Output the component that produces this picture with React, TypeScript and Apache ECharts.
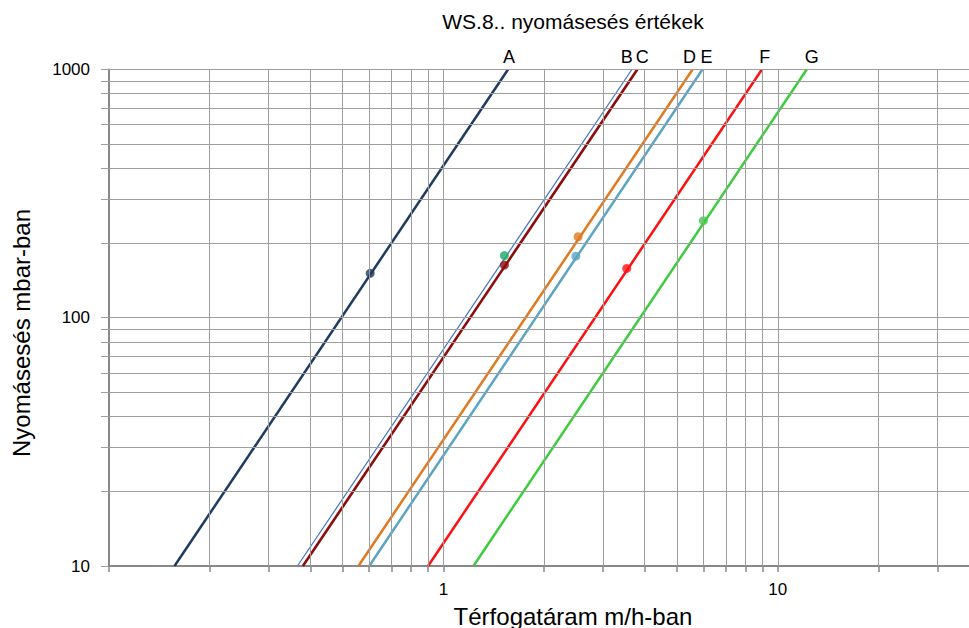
import React, { useEffect, useRef } from "react";
import * as echarts from "echarts";

const categories = ["A", "B", "C", "D", "E", "F", "G"];
const qAt10 = [0.157, 0.366, 0.38, 0.557, 0.6, 0.9, 1.23];
const qAt1000 = [1.56, 3.66, 3.8, 5.56, 5.95, 8.96, 12.2];
const markerQ = [0.604, 1.522, 1.522, 2.528, 2.489, 3.535, 5.99];
const markerP = [151, 178, 163, 212, 177, 158, 246];
const xGridValues = [0.2, 0.3, 0.4, 0.5, 0.6, 0.7, 0.8, 0.9, 1, 2, 3, 4, 5, 6, 7, 8, 9, 10, 20, 30];
const yGridValues = [20, 30, 40, 50, 60, 70, 80, 90, 100, 200, 300, 400, 500, 600, 700, 800, 900, 1000];
const xTickValues = [0.1, 0.2, 0.3, 0.4, 0.5, 0.6, 0.7, 0.8, 0.9, 1, 2, 3, 4, 5, 6, 7, 8, 9, 10, 20, 30];
const yTickValues = [10, 20, 30, 40, 50, 60, 70, 80, 90, 100, 200, 300, 400, 500, 600, 700, 800, 900, 1000];
const xTickLabels = [1, 10];
const yTickLabels = [10, 100, 1000];

const lineColors = ["#1F3B5F", "#4472C4", "#8E0B0B", "#E07A1F", "#5BA5C2", "#FF1010", "#3DCC3D"];
const markerColors = ["#1F3B5F", "#1DAA68", "#8E0B0B", "#E07A1F", "#5BA5C2", "#FF1010", "#3DCC3D"];
const lineWidths = [2.5, 1.2, 2.6, 2.5, 2.5, 2.5, 2.5];
const labelOffsets = [1, -5, 5, -3, 4, 3, 5];

const FONT = '"Liberation Sans", Arial, sans-serif';

export default function App() {
  const ref = useRef<HTMLDivElement>(null);
  useEffect(() => {
    if (!ref.current) return;
    const chart = echarts.init(ref.current, undefined, { renderer: "svg" });
    const gridColor = "#9E9E9E";
    const lineSeries: any[] = categories.map((c, i) => ({
      type: "line",
      name: c,
      z: 3,
      symbol: "none",
      silent: true,
      lineStyle: { color: lineColors[i], width: lineWidths[i] },
      data: [
        [qAt10[i], 10],
        [qAt1000[i], 1000],
      ],
    }));
    const labelSeries = {
      type: "scatter",
      z: 5,
      silent: true,
      symbol: "circle",
      symbolSize: 0,
      itemStyle: { color: "#000", opacity: 1 },
      data: categories.map((c, i) => ({
        value: [qAt1000[i], 1000],
        label: {
          show: true,
          position: "top",
          distance: 4,
          formatter: c,
          offset: [labelOffsets[i], 0],
          color: "#000",
          opacity: 1,
          fontSize: 18,
          fontFamily: FONT,
        },
      })),
    };
    const gridSeries = {
      type: "line",
      z: 1,
      silent: true,
      symbol: "none",
      data: [[0.1, 10]],
      lineStyle: { opacity: 0 },
      markLine: {
        silent: true,
        symbol: "none",
        label: { show: false },
        lineStyle: { color: gridColor, width: 1, type: "solid" },
        data: [
          ...xGridValues.map((v) => ({ xAxis: v })),
          ...yGridValues.map((v) => ({ yAxis: v })),
        ],
      },
    };
    const markerSeries = {
      type: "scatter",
      z: 4,
      symbolSize: 9,
      data: markerQ.map((q, i) => ({
        value: [q, markerP[i]],
        itemStyle: { color: markerColors[i] },
      })),
    };
    chart.setOption({
      animation: false,
      backgroundColor: "#fff",
      grid: { left: 109, right: 0, top: 69.5, bottom: 62, containLabel: false },
      xAxis: {
        type: "log",
        logBase: 10,
        min: 0.1,
        max: 37.3,
        axisLine: { show: true, lineStyle: { color: "#888", width: 2 } },
        axisTick: {
          show: true,
          length: 6,
          customValues: xTickValues,
          lineStyle: { color: "#888", width: 1.5 },
        },
        axisLabel: {
          customValues: xTickLabels,
          formatter: (v: number) => String(v),
          color: "#000",
          fontSize: 17,
          fontFamily: FONT,
          margin: 15,
        },
        splitLine: { show: false },
        minorTick: { show: false },
      },
      yAxis: {
        type: "log",
        logBase: 10,
        min: 10,
        max: 1000,
        axisLine: { show: true, lineStyle: { color: "#888", width: 2 } },
        axisTick: {
          show: true,
          length: 8,
          customValues: yTickValues,
          lineStyle: { color: gridColor, width: 1 },
        },
        axisLabel: {
          customValues: yTickLabels,
          formatter: (v: number) => String(v),
          color: "#000",
          fontSize: 17,
          fontFamily: FONT,
          margin: 19,
        },
        splitLine: { show: false },
      },
      graphic: [
        {
          type: "text",
          x: 573,
          y: 21,
          style: {
            text: "WS.8.. nyomásesés értékek",
            fill: "#000",
            fontSize: 21,
            fontFamily: FONT,
            align: "center",
            verticalAlign: "middle",
          },
        },
        {
          type: "text",
          x: 573,
          y: 616,
          style: {
            text: "Térfogatáram m/h-ban",
            fill: "#000",
            fontSize: 24,
            fontFamily: FONT,
            align: "center",
            verticalAlign: "middle",
          },
        },
        {
          type: "text",
          x: 21,
          y: 333,
          rotation: Math.PI / 2,
          style: {
            text: "Nyomásesés mbar-ban",
            fill: "#000",
            fontSize: 24,
            fontFamily: FONT,
            align: "center",
            verticalAlign: "middle",
          },
        },
      ],
      series: [gridSeries, ...lineSeries, markerSeries, labelSeries],
    });
    return () => chart.dispose();
  }, []);
  return (
    <div
      ref={ref}
      style={{ position: "fixed", left: 0, top: 0, width: 969, height: 628 }}
    />
  );
}
